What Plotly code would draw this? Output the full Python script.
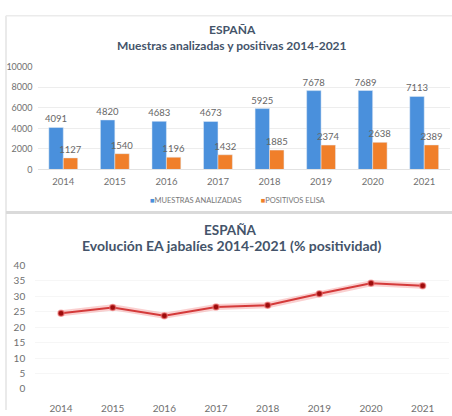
import plotly.graph_objects as go

years = ["2014", "2015", "2016", "2017", "2018", "2019", "2020", "2021"]
muestras = [4091, 4820, 4683, 4673, 5925, 7678, 7689, 7113]
positivos = [1127, 1540, 1196, 1432, 1885, 2374, 2638, 2389]
positividad = [24.5, 26.4, 23.7, 26.5, 27.1, 30.8, 34.2, 33.4]
series_names = ["MUESTRAS ANALIZADAS", "POSITIVOS ELISA"]

W, H = 452, 416
def py(px):
    return 1 - px / H
def px_(x):
    return x / W

BLUE = "#4A90DC"
ORANGE = "#F07F2A"
TITLE_C = "#44546A"
TICK_C = "#707070"
FONT = "Lato"

fig = go.Figure()

fig.add_trace(go.Bar(x=years, y=muestras, name=series_names[0], marker_color=BLUE,
                     text=[str(v) for v in muestras], textposition="outside",
                     constraintext="none",
                     textfont=dict(size=9.5, color="#666666", family=FONT),
                     cliponaxis=False, xaxis="x", yaxis="y"))
fig.add_trace(go.Bar(x=years, y=positivos, name=series_names[1], marker_color=ORANGE,
                     text=[str(v) for v in positivos], textposition="outside",
                     constraintext="none",
                     textfont=dict(size=9.5, color="#666666", family=FONT),
                     cliponaxis=False, xaxis="x", yaxis="y"))

# glow under line
fig.add_trace(go.Scatter(x=years, y=positividad, mode="lines",
                         line=dict(color="rgba(240,120,120,0.35)", width=6),
                         showlegend=False, hoverinfo="skip", xaxis="x2", yaxis="y2"))
fig.add_trace(go.Scatter(x=years, y=positividad, mode="lines+markers",
                         line=dict(color="#D43A3A", width=2),
                         marker=dict(color="#9E0B0B", size=6,
                                     line=dict(color="rgba(240,120,120,0.6)", width=1.5)),
                         showlegend=False, xaxis="x2", yaxis="y2"))

legend_text = (f'<span style="color:{BLUE}">■</span>{series_names[0]}'
               f'          <span style="color:{ORANGE}">■</span>{series_names[1]}')

fig.update_layout(
    width=W, height=H, margin=dict(l=0, r=0, t=0, b=0),
    paper_bgcolor="white", plot_bgcolor="white",
    font=dict(family=FONT, color=TICK_C),
    barmode="group", bargap=0.44, bargroupgap=0,
    showlegend=False,
    xaxis=dict(domain=[px_(37.5), px_(450)], anchor="y", type="category",
               range=[-0.5, 7.5], showgrid=False, showline=True, linecolor="#E2E2E2",
               ticks="outside", ticklen=3, tickcolor="rgba(0,0,0,0)",
               tickfont=dict(size=9.5, color=TICK_C)),
    yaxis=dict(domain=[py(167.7), py(61.7)], anchor="x", range=[0, 10000],
               tickvals=[0, 2000, 4000, 6000, 8000, 10000], tickformat="d", showgrid=True,
               gridcolor="#EDEDED", zeroline=False, showline=False,
               ticklabelstandoff=4, tickfont=dict(size=9, color=TICK_C)),
    xaxis2=dict(domain=[px_(35.2), px_(448.5)], anchor="y2", type="category",
                range=[-0.5, 7.5], showgrid=False, showline=False,
                ticks="outside", ticklen=10, tickcolor="rgba(0,0,0,0)",
                tickfont=dict(size=10, color=TICK_C)),
    yaxis2=dict(domain=[py(394.3), py(266.7)], anchor="x2", range=[0, 40],
                tickvals=[0, 5, 10, 15, 20, 25, 30, 35, 40], showgrid=True,
                gridcolor="#F6F6F6", zeroline=False, showline=False,
                ticklabelstandoff=9, tickfont=dict(size=10, color=TICK_C)),
    annotations=[
        dict(text="<b>ESPAÑA</b>", x=px_(232.5), y=py(23.5), xref="paper", yref="paper",
             yanchor="middle", showarrow=False, font=dict(size=12, color=TITLE_C, family=FONT)),
        dict(text="<b>Muestras analizadas y positivas 2014-2021</b>", x=px_(232), y=py(40),
             xref="paper", yref="paper", yanchor="middle", showarrow=False,
             font=dict(size=12, color=TITLE_C, family=FONT)),
        dict(text="<b>ESPAÑA</b>", x=px_(231), y=py(230.5), xref="paper", yref="paper",
             yanchor="middle", showarrow=False, font=dict(size=13.5, color=TITLE_C, family=FONT)),
        dict(text="<b>Evolución EA jabalíes 2014-2021 (% positividad)</b>", x=px_(231.5),
             y=py(246.5), xref="paper", yref="paper", yanchor="middle", showarrow=False,
             font=dict(size=14, color=TITLE_C, family=FONT)),
        dict(text=legend_text, x=px_(238), y=py(200), xref="paper", yref="paper",
             yanchor="middle", showarrow=False,
             font=dict(size=7.5, color="#777777", family=FONT)),
    ],
    shapes=[
        dict(type="line", xref="paper", yref="paper", x0=px_(6), x1=px_(6), y0=0, y1=py(9),
             line=dict(color="#E3E3E3", width=1.5)),
        dict(type="line", xref="paper", yref="paper", x0=px_(6), x1=1, y0=py(9), y1=py(9),
             line=dict(color="#EBEBEB", width=1.5)),
        dict(type="line", xref="paper", yref="paper", x0=px_(6), x1=1, y0=py(212), y1=py(212),
             line=dict(color="#DADADA", width=3)),
    ],
)

fig.write_html("out.html", config={"displayModeBar": False},
               post_script="document.body.style.margin='0';")
